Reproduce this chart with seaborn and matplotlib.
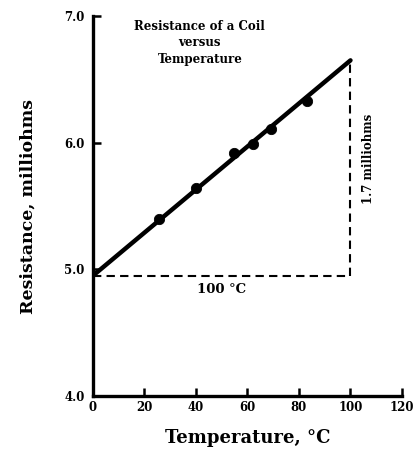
import pandas as pd
import matplotlib.pyplot as plt
import seaborn as sns

temp_c = [25.8, 40.1, 54.9, 62.0, 69.3, 83.3]
resistance_mohm = [5.40, 5.64, 5.92, 5.99, 6.11, 6.33]

# fitted line end points
fit_temp = [0, 100]
fit_res = [4.95, 6.65]

x_ticks = [0, 20, 40, 60, 80, 100, 120]
y_ticks = [4.0, 5.0, 6.0, 7.0]

sns.set_style("ticks", rc={"axes.edgecolor": "black", "text.color": "black",
                           "axes.labelcolor": "black", "xtick.color": "black",
                           "ytick.color": "black"})
plt.rcParams["font.family"] = ["DejaVu Serif"]
plt.rcParams["font.weight"] = "bold"

pts = pd.DataFrame({"temp": temp_c, "res": resistance_mohm})
fit = pd.DataFrame({"temp": fit_temp, "res": fit_res})

fig = plt.figure(figsize=(4.14, 4.5), dpi=100)
ax = fig.add_axes([0.2246, 0.12, 0.7464, 0.8444])

# dashed rise/run triangle
ax.plot([fit_temp[0], fit_temp[1]], [fit_res[0], fit_res[0]], color="black", ls="--", lw=1.5, dashes=(4, 2.5))
ax.plot([fit_temp[1], fit_temp[1]], [fit_res[0], fit_res[1]], color="black", ls="--", lw=1.5, dashes=(4, 2.5))

sns.lineplot(data=fit, x="temp", y="res", color="black", lw=3.2, ax=ax)
sns.scatterplot(data=pts, x="temp", y="res", color="black", s=55, edgecolor="black", ax=ax, zorder=3)

ax.set_xlim(0, 120)
ax.set_ylim(4.0, 7.0)
ax.set_xticks(x_ticks)
ax.set_yticks(y_ticks)
ax.set_yticklabels([f"{v:.1f}" for v in y_ticks])
ax.tick_params(direction="in", length=6, width=1.8, labelsize=8.5)
ax.tick_params(axis="y", pad=6)
for lab in ax.get_xticklabels() + ax.get_yticklabels():
    lab.set_fontweight("bold")
sns.despine(ax=ax)
for side in ["left", "bottom"]:
    ax.spines[side].set_linewidth(2.4)

ax.set_xlabel("Temperature, °C", fontsize=13, fontweight="bold", labelpad=11)
ax.set_ylabel("Resistance, milliohms", fontsize=12.5, fontweight="bold", labelpad=20)

ax.text(41.5, 6.79, "Resistance of a Coil\nversus\nTemperature", ha="center", va="center",
        fontsize=8.5, fontweight="bold", linespacing=1.35)
ax.text(50, 4.84, "100 °C", ha="center", va="center", fontsize=9.5, fontweight="bold")
ax.text(107, 5.87, "1.7 milliohms", ha="center", va="center", rotation=90,
        fontsize=8.5, fontweight="bold")

fig.savefig("out.png", dpi=100)
